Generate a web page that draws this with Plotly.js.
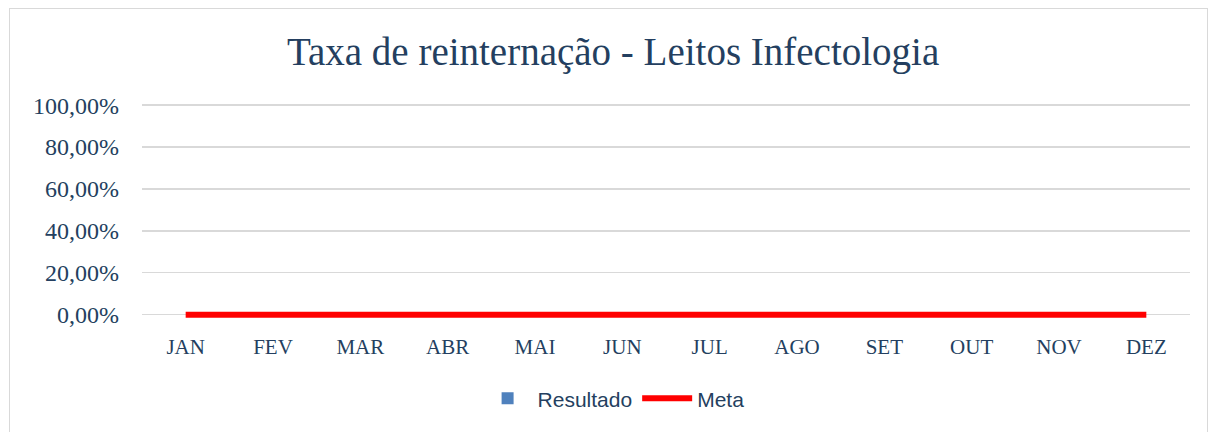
<!DOCTYPE html>
<html><head><meta charset="utf-8">
<script src="https://cdn.plot.ly/plotly-3.0.1.min.js"></script>
<style>
html,body{margin:0;padding:0;background:#fff;}
#wrap{position:relative;width:1214px;height:432px;}
#chart{position:absolute;left:0;top:0;width:1214px;height:432px;}
#frame{position:absolute;left:9px;top:8px;width:1197px;height:440px;border:1.5px solid #d9d9d9;pointer-events:none;}
</style></head>
<body><div id="wrap"><div id="chart"></div><div id="frame"></div></div>
<script>
const months = ['JAN','FEV','MAR','ABR','MAI','JUN','JUL','AGO','SET','OUT','NOV','DEZ'];
const resultado = [0,0,0,0,0,0,0,0,0,0,0,0];
const meta = [0,0,0,0,0,0,0,0,0,0,0,0];
const yTicks = [0,0.2,0.4,0.6,0.8,1.0];

const txt = '#243F60';
const serif = '"Liberation Serif", serif';

const traces = [
  {type:'bar', x:months, y:resultado, name:'Resultado', marker:{color:'#4F81BD'}},
  {type:'scatter', mode:'lines', x:months, y:meta, name:'Meta', line:{color:'#FF0000', width:6}}
];

const layout = {
  width:1214, height:432,
  margin:{l:142, r:24, t:103, b:114},
  paper_bgcolor:'rgba(0,0,0,0)', plot_bgcolor:'#fff',
  separators:',.',
  title:{text:'Taxa de reinternação - Leitos Infectologia', x:0.505, xanchor:'center', y:0.88, yanchor:'middle',
         font:{family:serif, size:39, color:txt}},
  xaxis:{type:'category', showgrid:false, zeroline:false, showline:false, ticks:'',
         tickfont:{family:serif, size:21, color:txt}, ticklabelstandoff:14},
  yaxis:{range:[-0.016,1.01], tickvals:yTicks, tickformat:'.2%', showgrid:true, gridcolor:'#d9d9d9', gridwidth:1.5,
         zeroline:true, zerolinecolor:'#d9d9d9', zerolinewidth:1.5, showline:false, ticks:'',
         tickfont:{family:serif, size:24, color:txt}, ticklabelstandoff:22},
  showlegend:true,
  legend:{orientation:'h', x:0.45, xanchor:'center', y:-0.28, yanchor:'top',
          font:{family:'"Liberation Sans", sans-serif', size:21, color:txt}, itemwidth:50, traceorder:'normal'},
  bargap:0.5
};
Plotly.newPlot('chart', traces, layout, {displayModeBar:false, staticPlot:true});
</script></body></html>
